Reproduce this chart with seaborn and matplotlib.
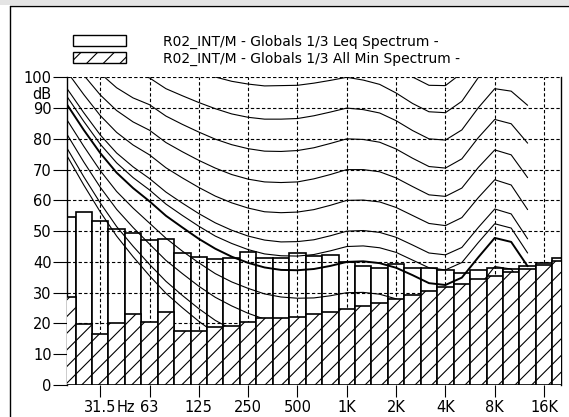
import numpy as np
import pandas as pd
import matplotlib
matplotlib.use("Agg")
import matplotlib.pyplot as plt
import seaborn as sns
from matplotlib.patches import Rectangle
from matplotlib.lines import Line2D

# ---------------- data ----------------
bands = ["20", "25", "31.5", "40", "50", "63", "80", "100", "125", "160", "200",
         "250", "315", "400", "500", "630", "800", "1K", "1.25K", "1.6K", "2K",
         "2.5K", "3.15K", "4K", "5K", "6.3K", "8K", "10K", "12.5K", "16K", "20K"]

leq = [54.7, 56.3, 53.3, 50.6, 49.3, 47.1, 47.4, 42.8, 41.7, 41.1, 41.4,
       43.1, 41.2, 41.4, 42.9, 41.9, 42.1, 40.0, 38.7, 38.1, 39.2,
       38.1, 37.9, 37.4, 36.5, 37.5, 38.0, 37.6, 38.8, 39.6, 41.2]

all_min = [28.7, 19.7, 16.6, 20.3, 23.1, 20.6, 23.8, 17.5, 17.5, 19.0, 19.2,
           20.4, 21.8, 21.8, 22.0, 23.0, 23.8, 24.7, 25.8, 26.8, 28.1,
           29.2, 30.7, 31.7, 32.7, 34.3, 35.3, 36.6, 37.6, 39.0, 40.4]

# equal-loudness contour values (dB) at the 1/3 octave bands 20 Hz .. 12.5 kHz
contour_bands = bands[:29]
curve_threshold = [74.3, 65.0, 56.3, 48.4, 41.7, 35.5, 29.8, 25.1, 20.7, 16.8, 13.8, 11.2, 8.9, 7.2, 6.0,
                   5.0, 4.4, 4.2, 3.7, 2.6, 1.0, -1.2, -3.6, -3.9, -1.1, 6.6, 15.3, 16.4, 11.6]
curve_10 = [76.8, 67.7, 59.2, 51.5, 45.1, 39.2, 33.7, 29.1, 24.8, 21.0, 18.1, 15.6, 13.4, 11.9, 10.9,
            10.1, 9.9, 10.0, 9.7, 8.7, 7.2, 5.0, 2.6, 2.2, 4.8, 12.2, 20.4, 21.0, 15.5]
curve_20 = [81.3, 72.5, 64.3, 57.1, 51.2, 45.8, 40.5, 36.2, 32.1, 28.5, 25.7, 23.3, 21.4, 20.1, 19.4,
            19.1, 19.4, 20.0, 19.9, 19.2, 17.7, 15.4, 13.0, 12.5, 15.0, 22.0, 29.4, 29.2, 22.7]
curve_30 = [86.0, 77.6, 69.7, 62.9, 57.5, 52.6, 47.7, 43.5, 39.7, 36.2, 33.5, 31.4, 29.6, 28.6, 28.2,
            28.3, 29.0, 30.0, 30.1, 29.5, 28.0, 25.7, 23.2, 22.6, 25.0, 31.7, 38.5, 37.7, 30.4]
curve_40 = [91.0, 82.9, 75.4, 69.0, 64.0, 59.7, 55.0, 51.2, 47.5, 44.3, 41.7, 39.7, 38.2, 37.4, 37.3,
            37.7, 38.7, 40.0, 40.2, 39.6, 38.1, 35.7, 33.1, 32.5, 34.9, 41.5, 47.8, 46.5, 38.6]
curve_45 = [93.6, 85.7, 78.3, 72.2, 67.4, 63.4, 58.8, 55.1, 51.6, 48.4, 46.0, 44.0, 42.6, 42.0, 41.9,
            42.4, 43.6, 45.0, 45.2, 44.6, 43.1, 40.6, 38.1, 37.4, 39.8, 46.3, 52.4, 51.0, 42.9]
curve_50 = [96.2, 88.5, 81.3, 75.4, 70.9, 67.1, 62.7, 59.1, 55.7, 52.7, 50.3, 48.4, 47.1, 46.5, 46.6,
            47.2, 48.5, 50.0, 50.2, 49.6, 48.0, 45.5, 42.9, 42.3, 44.7, 51.2, 57.2, 55.6, 47.5]
curve_60 = [101.7, 94.4, 87.6, 82.1, 78.0, 74.8, 70.6, 67.3, 64.2, 61.4, 59.2, 57.5, 56.3, 56.0, 56.2,
            57.0, 58.4, 60.0, 60.1, 59.5, 57.7, 55.1, 52.5, 51.8, 54.4, 60.9, 66.7, 65.0, 57.0]
curve_70 = [107.6, 100.7, 94.3, 89.2, 85.5, 82.8, 78.8, 75.8, 73.0, 70.5, 68.4, 66.9, 66.0, 65.8, 66.0,
            67.0, 68.4, 70.0, 70.0, 69.3, 67.3, 64.5, 61.8, 61.3, 64.0, 70.7, 76.4, 74.8, 67.4]
curve_80 = [113.7, 107.3, 101.3, 96.6, 93.3, 91.1, 87.4, 84.7, 82.2, 79.9, 78.1, 76.8, 76.0, 75.9, 76.2,
            77.1, 78.5, 80.0, 79.8, 78.9, 76.7, 73.7, 71.0, 70.5, 73.5, 80.4, 86.3, 84.9, 78.6]
curve_90 = [120.3, 114.4, 108.7, 104.4, 101.5, 99.8, 96.3, 94.0, 91.8, 89.8, 88.1, 87.0, 86.4, 86.4, 86.6,
            87.5, 88.7, 90.0, 89.5, 88.4, 85.9, 82.7, 80.0, 79.6, 82.9, 90.1, 96.3, 95.5, 90.9]
curve_100 = [127.2, 121.9, 116.6, 112.6, 110.1, 108.9, 105.6, 103.6, 101.8, 100.1, 98.7, 97.8, 97.2, 97.3, 97.4,
             98.1, 99.0, 100.0, 99.1, 97.7, 94.9, 91.5, 88.8, 88.5, 92.2, 99.9, 106.6, 106.5, 104.3]
curve_110 = [134.6, 129.8, 125.0, 121.3, 119.1, 118.4, 115.3, 113.7, 112.3, 110.9, 109.7, 109.0, 108.6, 108.6, 108.6,
             109.0, 109.5, 110.0, 108.6, 107.0, 103.8, 100.1, 97.4, 97.3, 101.4, 109.6, 117.0, 117.9, 119.0]

thin_curves = [curve_threshold, curve_10, curve_20, curve_30, curve_45, curve_50,
               curve_60, curve_70, curve_80, curve_90, curve_100, curve_110]
thick_curve = curve_40

tick_bands = ["31.5", "63", "125", "250", "500", "1K", "2K", "4K", "8K", "16K"]
legend_labels = ["R02_INT/M - Globals 1/3 Leq Spectrum -",
                 "R02_INT/M - Globals 1/3 All Min Spectrum -"]

# ---------------- figure ----------------
sns.set_theme(style="white")
plt.rcParams["font.family"] = ["DejaVu Sans"]
plt.rcParams["hatch.linewidth"] = 0.8
plt.rcParams["hatch.color"] = "black"

W_PX, H_PX = 569, 417
fig = plt.figure(figsize=(W_PX / 100, H_PX / 100), dpi=100)
fig.patch.set_facecolor("white")


def fx(x):
    return x / W_PX


def fy(y):
    return 1 - y / H_PX


x0, x1, y_top, y_bot = 67.3, 560.5, 77.3, 385.0
ax = fig.add_axes([fx(x0), fy(y_bot), fx(x1) - fx(x0), fy(y_top) - fy(y_bot)])
ax.set_facecolor("white")

idx = np.arange(len(bands))
df = pd.DataFrame({"pos": idx, "band": bands, "leq": leq, "min": all_min})

sns.barplot(data=df, x="pos", y="leq", native_scale=True, width=1.0, color="white",
            saturation=1, edgecolor="black", linewidth=1.2, errorbar=None, ax=ax, zorder=1)
sns.barplot(data=df, x="pos", y="min", native_scale=True, width=1.0, color="white",
            saturation=1, edgecolor="black", linewidth=1.2, errorbar=None, hatch="//",
            ax=ax, zorder=3)

cidx = np.arange(len(contour_bands))
for c in thin_curves:
    sns.lineplot(x=cidx, y=c, color="black", linewidth=0.8, sort=False, ax=ax, zorder=2)
sns.lineplot(x=cidx, y=thick_curve, color="black", linewidth=1.4, sort=False, ax=ax, zorder=2)

ax.set_xlim(0, len(bands) - 1)
ax.set_ylim(0, 100)
ax.set_xlabel("")
ax.set_ylabel("")

tick_pos = [bands.index(b) for b in tick_bands]
ax.set_xticks(tick_pos)
ax.set_xticklabels(tick_bands)
ax.set_xticks([3.57], minor=True)
ax.set_xticklabels(["Hz"], minor=True)
ax.set_yticks(np.arange(0, 101, 10))
ax.set_yticklabels([str(v) for v in range(0, 101, 10)])

ax.grid(True, which="major", color="black", linestyle=(0, (3, 2)), linewidth=0.8)
ax.set_axisbelow("line")

for s in ["top", "bottom"]:
    ax.spines[s].set_visible(False)
for s in ["left", "right"]:
    ax.spines[s].set_visible(True)
    ax.spines[s].set_color("black")
    ax.spines[s].set_linewidth(1.0)
    ax.spines[s].set_zorder(2.5)

FS = 10.5
ax.tick_params(axis="x", which="major", direction="out", length=8.5, width=0.8,
               color="black", pad=2.2, labelsize=FS, labelcolor="black", bottom=True)
ax.tick_params(axis="x", which="minor", length=0, pad=10.7, labelsize=FS,
               labelcolor="black", bottom=True)
ax.tick_params(axis="y", direction="out", length=10, width=0.8, color="black",
               pad=1.2, labelsize=FS, labelcolor="black", left=True)

fig.text(fx(51.7), fy(99), "dB", ha="right", va="baseline", fontsize=FS, color="black")

# legend
for k, (yt, yb) in enumerate([(35.0, 46.0), (52.3, 63.3)]):
    r = Rectangle((fx(73.3), fy(yb)), fx(126) - fx(73.3), fy(yt) - fy(yb),
                  transform=fig.transFigure, facecolor="white", edgecolor="black",
                  linewidth=1.0, hatch="//" if k == 1 else None)
    fig.add_artist(r)
    fig.text(fx(163), fy(yb - 0.5), legend_labels[k], ha="left", va="baseline",
             fontsize=10, color="black")

# outer window frame
fig.add_artist(Rectangle((0, fy(4.5)), 1, fy(0) - fy(4.5), transform=fig.transFigure,
                         facecolor="#e4e4e4", edgecolor="none"))
fig.add_artist(Line2D([fx(9.5), 1], [fy(6.2), fy(6.2)], transform=fig.transFigure,
                      color="black", linewidth=1.0))
fig.add_artist(Line2D([fx(9.5), fx(9.5)], [fy(6.2), 0], transform=fig.transFigure,
                      color="black", linewidth=1.0))

fig.savefig("out.png", dpi=100)
